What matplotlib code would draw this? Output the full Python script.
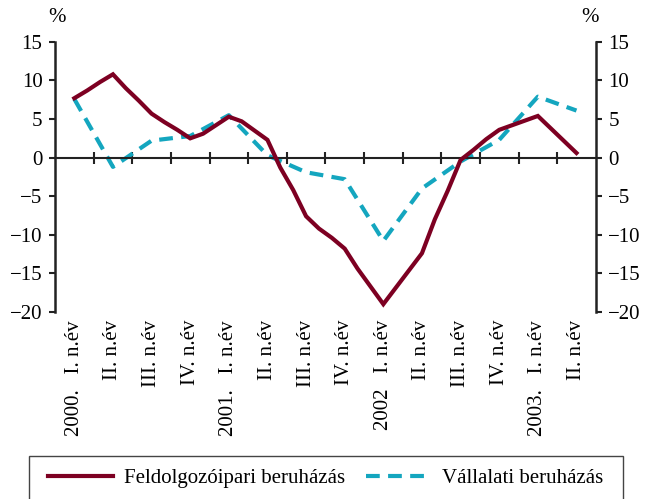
import numpy as np
import matplotlib.pyplot as plt
from matplotlib.patches import Rectangle
from matplotlib.transforms import blended_transform_factory

plt.rcParams['font.family'] = ['Liberation Serif', 'DejaVu Serif']

# quarter labels (14 quarters)
quarters = ["2000.   I. n.év", "II. n.év", "III. n.év", "IV. n.év",
            "2001.   I. n.év", "II. n.év", "III. n.év", "IV. n.év",
            "2002   I. n.év", "II. n.év", "III. n.év", "IV. n.év",
            "2003.   I. n.év", "II. n.év"]

# Vállalati beruházás - quarterly
vallalati = [7.6, -1.2, 2.2, 2.8, 5.5, 0.3, -1.9, -2.8,
             -10.8, -4.0, -0.5, 2.3, 7.9, 6.1]

# Feldolgozóipari beruházás - monthly (3 per quarter, middle month on quarter)
feldolg = [7.7, 8.7, 9.8, 10.8, 9.0, 7.4, 5.7, 4.6, 3.6, 2.5,
           3.1, 4.2, 5.3, 4.7, 3.5, 2.3, -1.3, -4.2, -7.6, -9.2,
           -10.4, -11.8, -14.4, -16.7, -19.0, -16.8, -14.6, -12.4, -8.0, -4.3,
           -0.3, 1.0, 2.4, 3.6, 4.2, 4.8, 5.4, 3.8, 2.2, 0.6]

RED = '#7d0022'
TEAL = '#14a6bf'
DARK = '#222222'
FS = 15

xq = np.arange(len(quarters))
xm = np.arange(len(feldolg)) / 3.0

fig = plt.figure(figsize=(6.5, 4.99), dpi=100)
ax = fig.add_axes([0.0846, 0.375, 0.832, 0.541])

ax.plot(xm, feldolg, color=RED, lw=3, solid_joinstyle='miter',
        label='Feldolgozóipari beruházás', zorder=3)
ax.plot(xq, vallalati, color=TEAL, lw=3, dashes=(3.3, 2.0),
        label='Vállalati beruházás', zorder=2)

ax.set_xlim(-0.5, 13.5)
ax.set_ylim(-20, 15)
ax.set_yticks(np.arange(-20, 16, 5))
ax.set_yticklabels([str(v).replace('-', '\u2212') for v in range(-20, 16, 5)])

ax.spines['top'].set_visible(False)
ax.spines['bottom'].set_position(('data', 0))
for s in ['left', 'right', 'bottom']:
    ax.spines[s].set_color(DARK)
ax.spines['left'].set_linewidth(1.8)
ax.spines['right'].set_linewidth(1.8)
ax.spines['bottom'].set_linewidth(1.5)

ax.set_xticks(np.arange(0.5, 13, 1))
ax.tick_params(axis='x', direction='inout', length=9, width=1.5,
               color=DARK, labelbottom=False)
ax.tick_params(axis='y', direction='out', length=4, width=1.5, color=DARK,
               labelsize=FS, pad=5, right=True, labelright=True)

trans = blended_transform_factory(ax.transData, ax.transAxes)
for i, lab in enumerate(quarters):
    ax.text(i, -0.03, lab, transform=trans, rotation=90, ha='center',
            va='top', fontsize=FS)

fig.text(0.088, 0.965, '%', fontsize=FS, ha='center', va='center')
fig.text(0.908, 0.965, '%', fontsize=FS, ha='center', va='center')

# legend box (reaches past the bottom edge, as in the original)
fig.patches.append(Rectangle((0.045, -0.05), 0.914, 0.137,
                             transform=fig.transFigure, fill=False,
                             edgecolor='#444444', lw=1.0))
leg = fig.legend(loc='center', bbox_to_anchor=(0.5015, 0.041),
                 ncol=2, frameon=False, fontsize=FS, handlelength=3.1,
                 handletextpad=0.55, columnspacing=1.0, borderpad=0.0)

fig.savefig('out.png', dpi=100)
